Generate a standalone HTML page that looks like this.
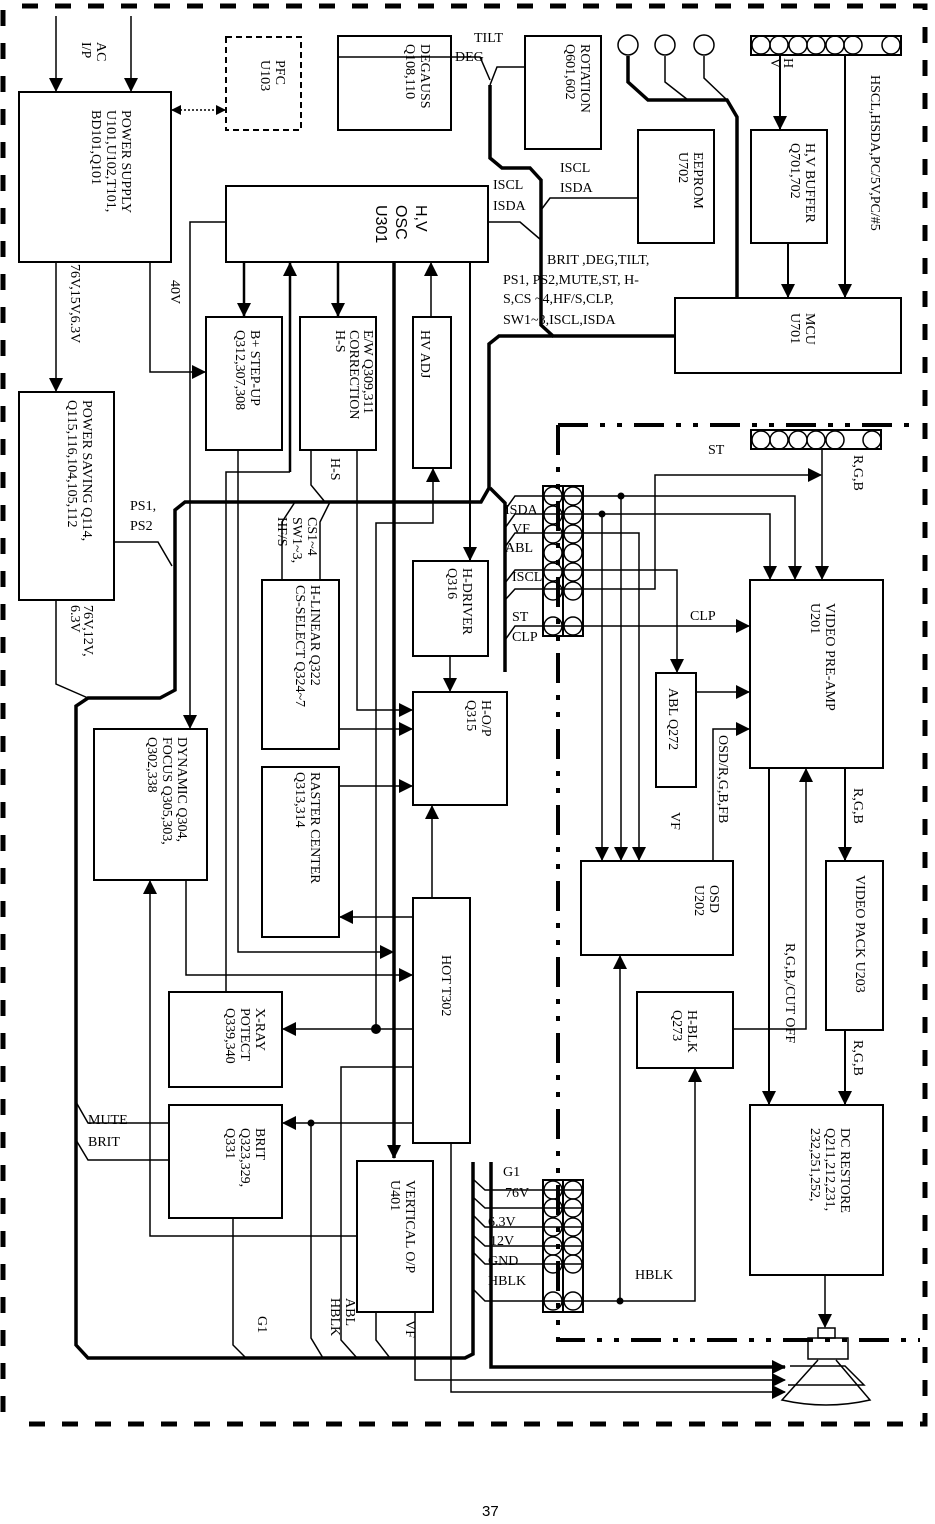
<!DOCTYPE html>
<html><head><meta charset="utf-8"><style>
html,body{margin:0;padding:0;background:#fff}
svg{display:block}
text{font-family:"Liberation Serif",serif;font-size:14px;fill:#000}
.s{font-family:"Liberation Sans",sans-serif}
</style></head><body>
<svg width="935" height="1524" viewBox="0 0 935 1524" xmlns="http://www.w3.org/2000/svg">
<defs>
<marker id="a" markerWidth="10" markerHeight="10" refX="9" refY="5" orient="auto-start-reverse" markerUnits="userSpaceOnUse"><path d="M0,0 L10,5 L0,10 z" fill="#000"/></marker>
<marker id="b" markerWidth="14" markerHeight="14" refX="13" refY="7" orient="auto" markerUnits="userSpaceOnUse"><path d="M0,0 L14,7 L0,14 z" fill="#000"/></marker>
</defs>
<g fill="none" stroke="#000">
<path d="M22,6 H925 V1424 H12" stroke-width="5" stroke-dasharray="16,17"/>
<path d="M3,10 V1415" stroke-width="5" stroke-dasharray="16,17"/>
<path d="M558,425 V1340 H920 M558,425 H920" stroke-width="4" stroke-dasharray="30,12,5,12,5,12"/>

<g stroke-width="2">
<rect x="19" y="92" width="152" height="170"/>
<rect x="338" y="36" width="113" height="94"/>
<rect x="525" y="36" width="76" height="113"/>
<rect x="226" y="186" width="262" height="76"/>
<rect x="638" y="130" width="76" height="113"/>
<rect x="751" y="130" width="76" height="113"/>
<rect x="675" y="298" width="226" height="75"/>
<rect x="206" y="317" width="76" height="133"/>
<rect x="300" y="317" width="76" height="133"/>
<rect x="413" y="317" width="38" height="151"/>
<rect x="19" y="392" width="95" height="208"/>
<rect x="262" y="580" width="77" height="169"/>
<rect x="413" y="561" width="75" height="95"/>
<rect x="413" y="692" width="94" height="113"/>
<rect x="262" y="767" width="77" height="170"/>
<rect x="94" y="729" width="113" height="151"/>
<rect x="413" y="898" width="57" height="245"/>
<rect x="169" y="992" width="113" height="95"/>
<rect x="169" y="1105" width="113" height="113"/>
<rect x="357" y="1161" width="76" height="151"/>
<rect x="750" y="580" width="133" height="188"/>
<rect x="656" y="673" width="40" height="114"/>
<rect x="581" y="861" width="152" height="94"/>
<rect x="826" y="861" width="57" height="169"/>
<rect x="637" y="992" width="96" height="76"/>
<rect x="750" y="1105" width="133" height="170"/>
</g>
<rect x="226" y="37" width="75" height="93" stroke-width="2" stroke-dasharray="6,4"/>
<path d="M172,110 H225" stroke-width="1.5" stroke-dasharray="2,2" marker-start="url(#a)" marker-end="url(#a)"/>

<rect x="751" y="36" width="150" height="19" stroke-width="2"/>
<g stroke-width="1.5">
<circle cx="761" cy="45" r="9"/><circle cx="779" cy="45" r="9"/><circle cx="798" cy="45" r="9"/><circle cx="816" cy="45" r="9"/><circle cx="835" cy="45" r="9"/><circle cx="853" cy="45" r="9"/><circle cx="891" cy="45" r="9"/>
<circle cx="628" cy="45" r="10"/><circle cx="665" cy="45" r="10"/><circle cx="704" cy="45" r="10"/>
</g>
<rect x="751" y="430" width="130" height="19" stroke-width="2"/>
<g stroke-width="1.5">
<circle cx="761" cy="440" r="9"/><circle cx="779" cy="440" r="9"/><circle cx="798" cy="440" r="9"/><circle cx="816" cy="440" r="9"/><circle cx="835" cy="440" r="9"/><circle cx="872" cy="440" r="9"/>
</g>
<rect x="543" y="486" width="20" height="150" stroke-width="2"/>
<rect x="563" y="486" width="20" height="150" stroke-width="2"/>
<g stroke-width="1.5">
<circle cx="553" cy="496" r="9"/><circle cx="573" cy="496" r="9"/>
<circle cx="553" cy="515" r="9"/><circle cx="573" cy="515" r="9"/>
<circle cx="553" cy="534" r="9"/><circle cx="573" cy="534" r="9"/>
<circle cx="553" cy="553" r="9"/><circle cx="573" cy="553" r="9"/>
<circle cx="553" cy="572" r="9"/><circle cx="573" cy="572" r="9"/>
<circle cx="553" cy="591" r="9"/><circle cx="573" cy="591" r="9"/>
<circle cx="553" cy="626" r="9"/><circle cx="573" cy="626" r="9"/>
</g>
<rect x="543" y="1180" width="20" height="132" stroke-width="2"/>
<rect x="563" y="1180" width="20" height="132" stroke-width="2"/>
<g stroke-width="1.5">
<circle cx="553" cy="1190" r="9"/><circle cx="573" cy="1190" r="9"/>
<circle cx="553" cy="1208" r="9"/><circle cx="573" cy="1208" r="9"/>
<circle cx="553" cy="1227" r="9"/><circle cx="573" cy="1227" r="9"/>
<circle cx="553" cy="1246" r="9"/><circle cx="573" cy="1246" r="9"/>
<circle cx="553" cy="1264" r="9"/><circle cx="573" cy="1264" r="9"/>
<circle cx="553" cy="1301" r="9"/><circle cx="573" cy="1301" r="9"/>
</g>

<g stroke-width="3.5">
<path d="M490,85 V158 L502,168 H530 L541,180 V325 L553,336 H675"/>
<path d="M553,336 H499 L489,344 V488 L481,502 H185 L175,510 V690 L160,698 H88 L76,706 V1345 L88,1358 H465 L473,1354 V1162"/>
<path d="M490,488 L505,503 V672"/>
<path d="M628,56 V82 L648,100 H727 L737,117 V298"/>
<path d="M394,262 V1158" marker-end="url(#b)"/>
<path d="M491,1162 V1367 H785" marker-end="url(#b)"/>
</g>
<g stroke-width="1.5">
<path d="M665,56 V82 L688,100"/><path d="M704,56 V78 L727,100"/>
<path d="M56,16 V91" marker-end="url(#b)"/><path d="M131,16 V91" marker-end="url(#b)"/>
<path d="M56,262 V391" marker-end="url(#b)"/>
<path d="M150,262 V372 H205" marker-end="url(#b)"/>
<path d="M226,222 H190 V728" marker-end="url(#b)"/>
<path d="M244,262 V316" stroke-width="2.5" marker-end="url(#b)"/>
<path d="M338,262 V316" stroke-width="2.5" marker-end="url(#b)"/>
<path d="M290,472 V263" stroke-width="2.5" marker-end="url(#b)"/>
<path d="M290,472 H226 V992"/>
<path d="M238,450 V952 H393" marker-end="url(#b)"/>
<path d="M357,450 V710 H412" marker-end="url(#b)"/>
<path d="M311,450 V485 L325,502"/>
<path d="M320,580 V522 L330,502"/><path d="M282,580 V522 L295,502"/>
<path d="M339,729 H412" marker-end="url(#b)"/>
<path d="M339,786 H412" marker-end="url(#b)"/>
<path d="M413,917 H340" marker-end="url(#b)"/>
<path d="M186,880 V975 H412" marker-end="url(#b)"/>
<path d="M357,1236 H150 V881" marker-end="url(#b)"/>
<path d="M431,317 V263" marker-end="url(#b)"/>
<path d="M376,1029 V523 H433 V469" marker-end="url(#b)"/>
<path d="M470,262 V560" stroke-width="2" marker-end="url(#b)"/>
<path d="M450,656 V691" marker-end="url(#b)"/>
<path d="M432,898 V806" marker-end="url(#b)"/>
<path d="M413,1029 H283" marker-end="url(#b)"/>
<path d="M413,1123 H283" marker-end="url(#b)"/>
<path d="M311,1123 V1338 L323,1358"/>
<path d="M413,1067 H341 V1340 L357,1358"/>
<path d="M76,1102 L88,1123 H169"/><path d="M76,1140 L88,1160 H169"/>
<path d="M233,1218 V1345 L246,1358"/>
<path d="M376,1312 V1340 L390,1358"/>
<path d="M415,1312 V1380 H785" marker-end="url(#b)"/>
<path d="M451,1143 V1392 H785" marker-end="url(#b)"/>
<path d="M114,542 H158 L172,566"/>
<path d="M56,600 V684 L88,698"/>
<path d="M338,57 H480 L490,80"/>
<path d="M525,67 H497 L490,85"/>
<path d="M488,222 H520 L541,240"/>
<path d="M638,198 H550 L541,210"/>
<path d="M780,55 V129" stroke-width="2" marker-end="url(#b)"/>
<path d="M788,243 V297" stroke-width="2" marker-end="url(#b)"/>
<path d="M845,55 V297" stroke-width="2" marker-end="url(#b)"/>
<path d="M505,510 L515,496 H795 V579" marker-end="url(#b)"/>
<path d="M505,528 L515,514 H770 V579" marker-end="url(#b)"/>
<path d="M505,547 L515,533 H639 V860" marker-end="url(#b)"/>
<path d="M505,583 L515,570 H677 V672" marker-end="url(#b)"/>
<path d="M505,600 L515,589 H655 V475 H821" marker-end="url(#b)"/>
<path d="M505,640 L515,626 H749" marker-end="url(#b)"/>
<path d="M621,496 V860" marker-end="url(#b)"/>
<path d="M602,514 V860" marker-end="url(#b)"/>
<path d="M822,449 V579" marker-end="url(#b)"/>
<path d="M696,692 H749" marker-end="url(#b)"/>
<path d="M713,861 V729 H749" marker-end="url(#b)"/>
<path d="M769,768 V1104" stroke-width="2" marker-end="url(#b)"/>
<path d="M733,1029 H806 V769" marker-end="url(#b)"/>
<path d="M845,768 V860" stroke-width="2" marker-end="url(#b)"/>
<path d="M845,1030 V1104" stroke-width="2" marker-end="url(#b)"/>
<path d="M825,1275 V1327" marker-end="url(#b)"/>
<path d="M474,1180 L485,1190 H583 M474,1198 L485,1208 H583 M474,1216 L485,1227 H583 M474,1236 L485,1246 H583 M474,1253 L485,1264 H583"/>
<path d="M474,1290 L485,1301 H695 V1069" marker-end="url(#b)"/>
<path d="M620,1301 V956" marker-end="url(#b)"/>
</g>
<g fill="#000" stroke="none">
<circle cx="621" cy="496" r="3.5"/><circle cx="602" cy="514" r="3.5"/>
<circle cx="376" cy="1029" r="5"/><circle cx="311" cy="1123" r="3.5"/><circle cx="620" cy="1301" r="3.5"/>
</g>
<g stroke-width="1.5">
<rect x="818" y="1328" width="17" height="10"/>
<rect x="808" y="1338" width="40" height="21"/>
<path d="M818,1360 L782,1400 Q826,1410 870,1400 L836,1360"/>
<path d="M790,1366 H845 L864,1385 H788"/>
</g>
</g>

<g transform="translate(-4,0)">
<text transform="translate(101,42) rotate(90)">AC</text>
<text transform="translate(86,42) rotate(90)">I/P</text>
<text transform="translate(126,110) rotate(90)">POWER SUPPLY</text>
<text transform="translate(111,110) rotate(90)">U101,U102,T101,</text>
<text transform="translate(96,110) rotate(90)">BD101,Q101</text>
<text transform="translate(280,60) rotate(90)">PFC</text>
<text transform="translate(265,60) rotate(90)">U103</text>
<text transform="translate(425,44) rotate(90)">DEGAUSS</text>
<text transform="translate(410,44) rotate(90)">Q108,110</text>
<text transform="translate(585,44) rotate(90)">ROTATION</text>
<text transform="translate(570,44) rotate(90)">Q601,602</text>
<text class="s" transform="translate(420,205) rotate(90)" style="font-size:16px">H,V</text>
<text class="s" transform="translate(400,205) rotate(90)" style="font-size:16px">OSC</text>
<text class="s" transform="translate(380,205) rotate(90)" style="font-size:16px">U301</text>
<text transform="translate(698,152) rotate(90)">EEPROM</text>
<text transform="translate(683,152) rotate(90)">U702</text>
<text transform="translate(810,143) rotate(90)">H,V BUFFER</text>
<text transform="translate(795,143) rotate(90)">Q701,702</text>
<text transform="translate(875,75) rotate(90)">HSCL,HSDA,PC/5V,PC/#5</text>
<text transform="translate(775,58) rotate(90)">V</text>
<text transform="translate(788,58) rotate(90)">H</text>
<text transform="translate(810,313) rotate(90)">MCU</text>
<text transform="translate(795,313) rotate(90)">U701</text>
<text transform="translate(175,280) rotate(90)">40V</text>
<text transform="translate(75,264) rotate(90)">76V,15V,6.3V</text>
<text transform="translate(255,330) rotate(90)">B+  STEP-UP</text>
<text transform="translate(240,330) rotate(90)">Q312,307,308</text>
<text transform="translate(368,330) rotate(90)">E/W   Q309,311</text>
<text transform="translate(354,330) rotate(90)">CORRECTION</text>
<text transform="translate(340,330) rotate(90)">H-S</text>
<text transform="translate(425,330) rotate(90)">HV    ADJ</text>
<text transform="translate(335,458) rotate(90)">H-S</text>
<text transform="translate(87,400) rotate(90)">POWER SAVING Q114,</text>
<text transform="translate(72,400) rotate(90)">Q115,116,104,105,112</text>
<text transform="translate(88,605) rotate(90)">76V,12V,</text>
<text transform="translate(75,605) rotate(90)">6.3V</text>
<text transform="translate(312,517) rotate(90)">CS1~4</text>
<text transform="translate(297,517) rotate(90)">SW1~3,</text>
<text transform="translate(282,517) rotate(90)">HF/S</text>
<text transform="translate(315,585) rotate(90)">H-LINEAR Q322</text>
<text transform="translate(300,585) rotate(90)">CS-SELECT Q324~7</text>
<text transform="translate(467,568) rotate(90)">H-DRIVER</text>
<text transform="translate(452,568) rotate(90)">Q316</text>
<text transform="translate(486,700) rotate(90)">H-O/P</text>
<text transform="translate(471,700) rotate(90)">Q315</text>
<text transform="translate(315,772) rotate(90)">RASTER    CENTER</text>
<text transform="translate(300,772) rotate(90)">Q313,314</text>
<text transform="translate(182,737) rotate(90)">DYNAMIC Q304,</text>
<text transform="translate(167,737) rotate(90)">FOCUS Q305,303,</text>
<text transform="translate(152,737) rotate(90)">Q302,338</text>
<text transform="translate(446,955) rotate(90)">HOT  T302</text>
<text transform="translate(260,1008) rotate(90)">X-RAY</text>
<text transform="translate(245,1008) rotate(90)">POTECT</text>
<text transform="translate(230,1008) rotate(90)">Q339,340</text>
<text transform="translate(260,1128) rotate(90)">BRIT</text>
<text transform="translate(245,1128) rotate(90)">Q323,329,</text>
<text transform="translate(230,1128) rotate(90)">Q331</text>
<text transform="translate(410,1180) rotate(90)">VERTICAL    O/P</text>
<text transform="translate(395,1180) rotate(90)">U401</text>
<text transform="translate(262,1316) rotate(90)">G1</text>
<text transform="translate(350,1298) rotate(90)">ABL</text>
<text transform="translate(335,1298) rotate(90)">HBLK</text>
<text transform="translate(410,1320) rotate(90)">VF</text>
<text transform="translate(830,603) rotate(90)">VIDEO PRE-AMP</text>
<text transform="translate(815,603) rotate(90)">U201</text>
<text transform="translate(673,688) rotate(90)">ABL Q272</text>
<text transform="translate(723,735) rotate(90)">OSD/R,G,B,FB</text>
<text transform="translate(675,812) rotate(90)">VF</text>
<text transform="translate(714,885) rotate(90)">OSD</text>
<text transform="translate(699,885) rotate(90)">U202</text>
<text transform="translate(858,788) rotate(90)">R,G,B</text>
<text transform="translate(858,1040) rotate(90)">R,G,B</text>
<text transform="translate(858,455) rotate(90)">R,G,B</text>
<text transform="translate(860,875) rotate(90)">VIDEO PACK U203</text>
<text transform="translate(790,943) rotate(90)">R,G,B,/CUT OFF</text>
<text transform="translate(692,1010) rotate(90)">H-BLK</text>
<text transform="translate(677,1010) rotate(90)">Q273</text>
<text transform="translate(845,1128) rotate(90)">DC RESTORE</text>
<text transform="translate(830,1128) rotate(90)">Q211,212,231,</text>
<text transform="translate(815,1128) rotate(90)">232,251,252,</text>
</g>
<text x="474" y="42">TILT</text>
<text x="455" y="61">DEG</text>
<text x="560" y="172">ISCL</text>
<text x="560" y="192">ISDA</text>
<text x="493" y="189">ISCL</text>
<text x="493" y="210">ISDA</text>
<text x="547" y="264">BRIT ,DEG,TILT,</text>
<text x="503" y="284">PS1,  PS2,MUTE,ST,   H-</text>
<text x="503" y="303">S,CS  ~4,HF/S,CLP,</text>
<text x="503" y="324">SW1~3,ISCL,ISDA</text>
<text x="130" y="510">PS1,</text>
<text x="130" y="530">PS2</text>
<text x="708" y="454">ST</text>
<text x="505" y="514">ISDA</text>
<text x="512" y="533">VF</text>
<text x="505" y="552">ABL</text>
<text x="512" y="581">ISCL</text>
<text x="512" y="621">ST</text>
<text x="512" y="641">CLP</text>
<text x="690" y="620">CLP</text>
<text x="88" y="1124">MUTE</text>
<text x="88" y="1146">BRIT</text>
<text x="503" y="1176">G1</text>
<text x="505" y="1197">76V</text>
<text x="488" y="1226">6.3V</text>
<text x="490" y="1245">12V</text>
<text x="488" y="1265">GND</text>
<text x="488" y="1285">HBLK</text>
<text x="635" y="1279">HBLK</text>
<text class="s" x="482" y="1516" style="font-size:15px">37</text>
</svg>
</body></html>
